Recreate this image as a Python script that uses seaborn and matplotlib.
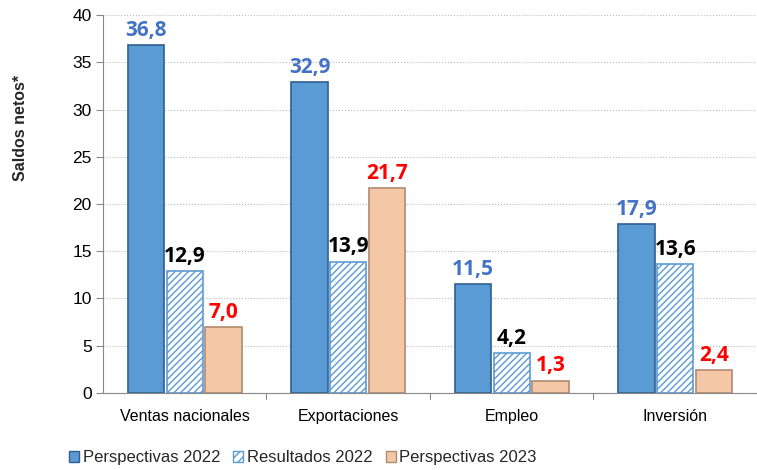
import matplotlib
matplotlib.use('Agg')
import matplotlib.pyplot as plt
import numpy as np
import pandas as pd
import seaborn as sns

categories = ['Ventas nacionales', 'Exportaciones', 'Empleo', 'Inversión']
series_names = ['Perspectivas 2022', 'Resultados 2022', 'Perspectivas 2023']
persp_2022 = [36.8, 32.9, 11.5, 17.9]
result_2022 = [12.9, 13.9, 4.2, 13.6]
persp_2023 = [7.0, 21.7, 1.3, 2.4]

df = pd.DataFrame({
    'categoria': categories * 3,
    'serie': [series_names[0]] * 4 + [series_names[1]] * 4 + [series_names[2]] * 4,
    'valor': persp_2022 + result_2022 + persp_2023,
})

sns.set_style('white')
plt.rcParams['font.family'] = ['Liberation Sans', 'DejaVu Sans']

fig = plt.figure(figsize=(7.57, 4.7), dpi=100)
ax = fig.add_axes([0.136, 0.164, 0.864, 0.804])

face_colors = ['#5B9BD5', 'white', '#F4C7A6']
edge_colors = ['#2F5F8F', '#5B9BD5', '#B08A70']
label_colors = ['#4472C4', 'black', '#FF0000']

sns.barplot(data=df, x='categoria', y='valor', hue='serie', order=categories,
            hue_order=series_names, palette=face_colors, width=0.71,
            ax=ax, legend=False, saturation=1)

for i, cont in enumerate(ax.containers):
    for bar in cont:
        bar.set_edgecolor(edge_colors[i])
        bar.set_linewidth(1.2)
        # a little gap between neighbouring bars
        w = bar.get_width()
        bar.set_x(bar.get_x() + w * 0.03)
        bar.set_width(w * 0.94)
        if i == 1:
            bar.set_hatch('/////')
            bar.set_edgecolor('#5B9BD5')
    labels = [f'{v:.1f}'.replace('.', ',') for v in cont.datavalues]
    ax.bar_label(cont, labels=labels, padding=3, color=label_colors[i],
                 fontsize=15, fontweight='bold', family=['Open Sans', 'DejaVu Sans'])

ax.set_ylim(0, 40)
ax.set_yticks(np.arange(0, 41, 5))
ax.set_xlim(-0.5, 3.5)
ax.yaxis.grid(True, linestyle=':', color='#BBBBBB', linewidth=0.8)
ax.set_axisbelow(True)
ax.set_xlabel('')
ax.set_ylabel('Saldos netos*', fontsize=11.5, fontweight='bold')
ax.yaxis.set_label_coords(-0.115, 0.7)
ax.tick_params(axis='y', labelsize=12.5, colors='#888888', length=5,
               direction='out', left=True, labelcolor='black', pad=3)
ax.tick_params(axis='x', labelsize=11.5, bottom=False, labelcolor='black', pad=8)
for sp in ['top', 'right']:
    ax.spines[sp].set_visible(False)
for sp in ['left', 'bottom']:
    ax.spines[sp].set_color('#888888')
for x in [0.5, 1.5, 2.5]:
    ax.plot([x, x], [0, -0.015], transform=ax.get_xaxis_transform(),
            color='#888888', linewidth=0.8, clip_on=False)

handles = [
    plt.Rectangle((0, 0), 1, 1, facecolor=face_colors[0], edgecolor=edge_colors[0]),
    plt.Rectangle((0, 0), 1, 1, facecolor='white', edgecolor='#5B9BD5', hatch='////'),
    plt.Rectangle((0, 0), 1, 1, facecolor=face_colors[2], edgecolor=edge_colors[2]),
]
fig.legend(handles, series_names, loc='lower center', bbox_to_anchor=(0.4, -0.022),
           ncol=3, frameon=False, fontsize=12, handlelength=0.6, handleheight=0.6,
           handletextpad=0.2, columnspacing=0.8)

fig.savefig('out.png', dpi=100)
